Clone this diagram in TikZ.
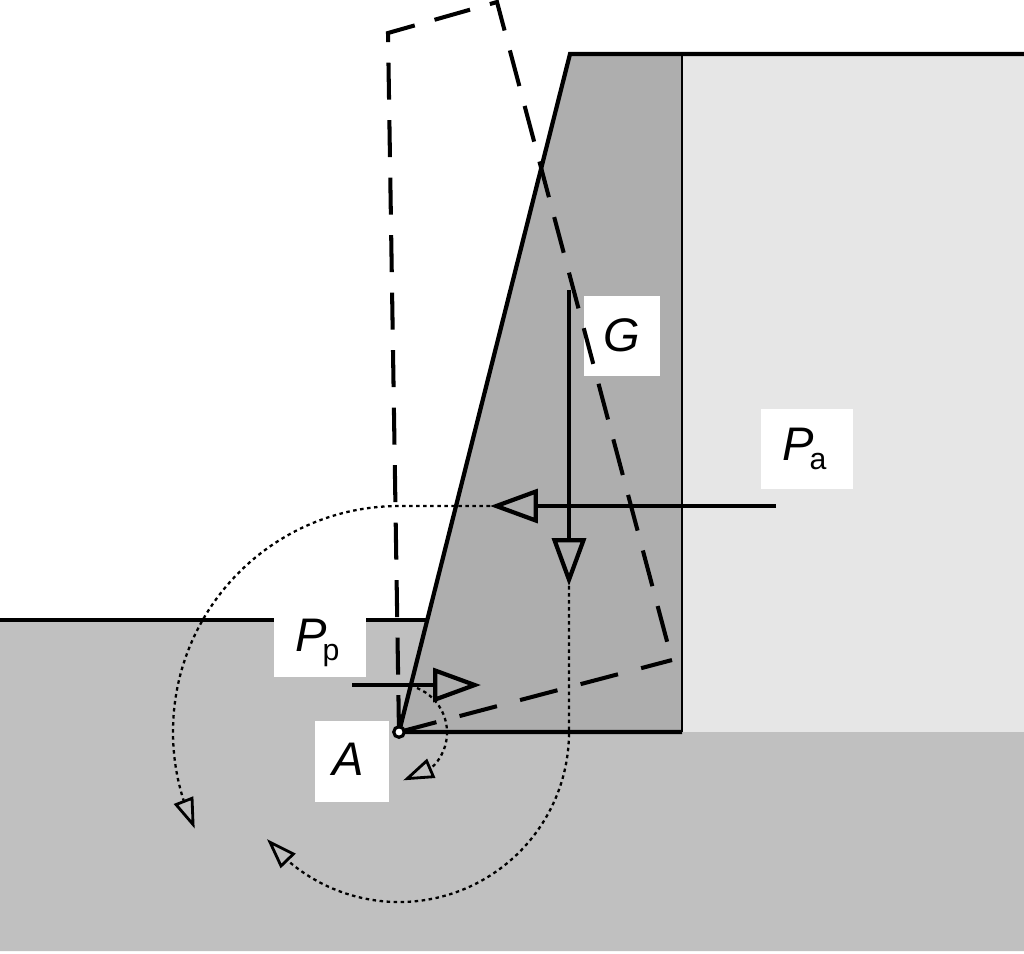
\documentclass[tikz,border=0pt]{standalone}
\usepackage{fontspec}
\setmainfont{Liberation Sans}
\usetikzlibrary{arrows.meta,bending}
\definecolor{wallgray}{HTML}{AEAEAE}
\definecolor{soilgray}{HTML}{C0C0C0}
\definecolor{backgray}{HTML}{E6E6E6}
\newcommand{\lablbox}[6]{\node[shape=rectangle,draw=none,fill=white, inner sep=0pt,minimum width=#4,minimum height=#5] (#1) at ( #2 , #3 ) {#6};}
\newcommand{\forcename}[2]{\textit{#1}\kern-1.2pt\raisebox{-2.6pt}{\fontsize{8.6}{8.6}\selectfont #2}\kern1.5pt}
\tikzset{
    x=0.01cm, y=-0.01cm,
    every node/.style={font=\fontsize{13.4}{13.4}\selectfont},
    border/.style={line width=1.2pt, line join=miter},
    force/.style={line width=1.2pt, -{Triangle[open,length=13.6pt,width=9.6pt]}},
    turn/.style={line width=0.65pt, dash pattern=on 1pt off 1pt, -{Triangle[open,length=8.7pt,width=5.8pt,flex,line width=0.8pt]}},
    swing/.style={line width=1.15pt, dash pattern=on 10.5pt off 5.85pt, line join=miter},
    swingbase/.style={line width=1.15pt, dash pattern=on 11pt off 6.8pt},
}
\begin{document}
\begin{tikzpicture}
    \useasboundingbox (0,0) rectangle (1024,953);
    \fill[white] (0,0) rectangle (1024,953);
    % soil and backfill
    \fill[soilgray] (0,620) -- (428,620) -- (399,732) -- (1024,732) -- (1024,951) -- (0,951) -- cycle;
    \fill[backgray] (682,54) rectangle (1024,732);
    % wall
    \coordinate (topleft) at (570,54);
    \coordinate (topright) at (682,54);
    \coordinate (heel) at (682,732);
    \coordinate (toe) at (399,732);
    \fill[wallgray] (topleft) -- (topright) -- (heel) -- (toe) -- cycle;
    % outlines
    \coordinate (topend) at (1024,54);
    \coordinate (groundleft) at (0,620);
    \coordinate (groundright) at (428,620);
    \draw[border] (topend) -- (topleft) -- (toe) -- (heel);
    \draw[line width=0.8pt] (topright) -- (heel);
    \draw[border] (groundleft) -- (groundright);
    % labels
    \lablbox{lablG}{622}{336}{0.76cm}{0.80cm}{\raisebox{0.6pt}{\textit{G}}}
    \lablbox{lablPa}{807}{449}{0.92cm}{0.80cm}{\forcename{P}{a}}
    \lablbox{lablPp}{320}{643}{0.92cm}{0.68cm}{\forcename{P}{p}}
    \lablbox{lablA}{352}{761}{0.74cm}{0.81cm}{\raisebox{1pt}{\textit{A}\hspace{2pt}}}
    % rotated wall
    \coordinate (swingA) at (388,33);
    \coordinate (swingB) at (497,2);
    \coordinate (swingC) at (672,660);
    \draw[swing] (toe) -- (swingA) -- (swingB) -- (swingC);
    \draw[swingbase] (toe) -- (swingC);
    % forces
    \coordinate (Gstart) at (569,290);
    \coordinate (Gtip) at (569,586);
    \coordinate (Pastart) at (776,506);
    \coordinate (Patip) at (490,506);
    \coordinate (Ppstart) at (352,685);
    \coordinate (Pptip) at (481,685);
    \draw[force] (Gstart) -- (Gtip);
    \draw[force] (Pastart) -- (Patip);
    \draw[force] (Ppstart) -- (Pptip);
    % moment arcs about the toe
    \draw[turn] (Patip) -- (399,506) arc[start angle=270,end angle=154.7,radius=226];
    \draw[turn] (Gtip) -- (569,732) arc[start angle=0,end angle=141,radius=170];
    \draw[turn] (417,688) arc[start angle=-68,end angle=85,radius=48];
    % pivot
    \node[shape=circle,draw,fill=white,line width=0.9pt,inner sep=0pt,minimum size=3pt] (pivot) at (toe) {};
\end{tikzpicture}
\end{document}
